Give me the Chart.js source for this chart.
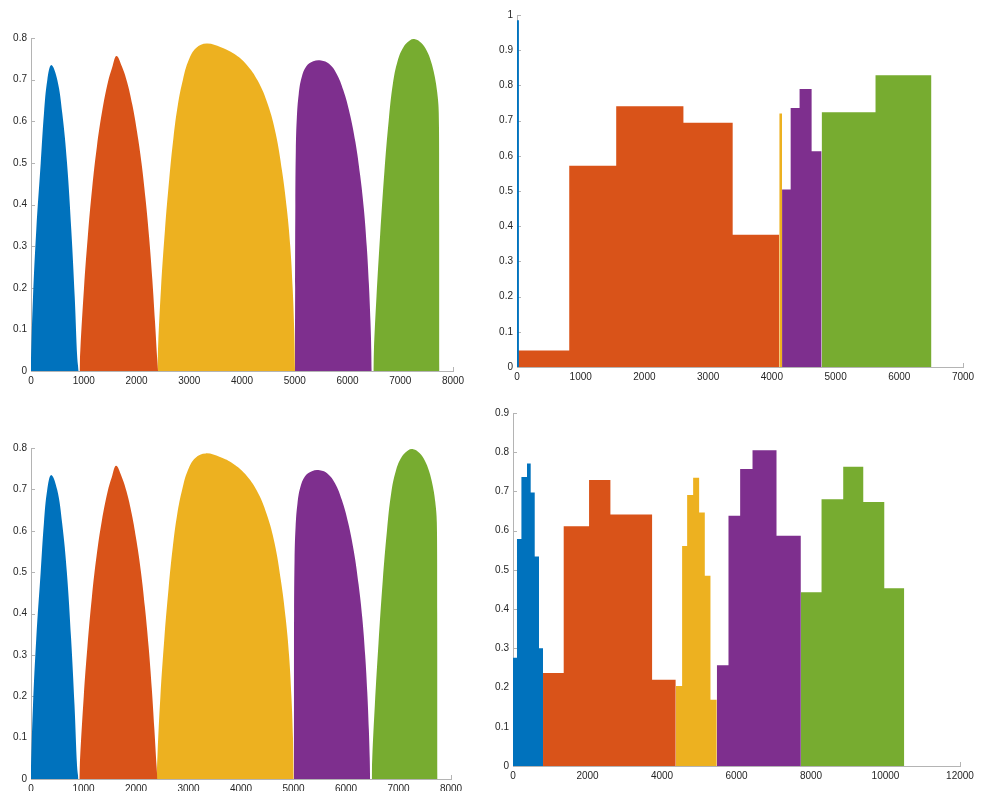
<!DOCTYPE html>
<html>
<head>
<meta charset="utf-8">
<title>Spectra</title>
<script src="https://cdn.jsdelivr.net/npm/chart.js@4.4.0/dist/chart.umd.min.js"></script>
<style>
  html, body { margin: 0; padding: 0; background: #fff; overflow: hidden; width: 983px; height: 791px; }
  .panel { position: absolute; }
</style>
</head>
<body>
<div class="panel" style="left:0px; top:28px; width:473px; height:363px;"><canvas id="chartTL"></canvas></div>
<div class="panel" style="left:486px; top:5px; width:497px; height:382px;"><canvas id="chartTR"></canvas></div>
<div class="panel" style="left:0px; top:438px; width:471px; height:361px;"><canvas id="chartBL"></canvas></div>
<div class="panel" style="left:482px; top:403px; width:498px; height:383px;"><canvas id="chartBR"></canvas></div>
<script>
// smooth lobes (left panels)
const curveBlueX   = [0, 38, 100, 184, 246, 309, 385, 499, 593, 683, 764, 829, 878, 904];
const curveBlueY   = [0.03, 0.178, 0.339, 0.5, 0.619, 0.699, 0.735, 0.699, 0.619, 0.5, 0.339, 0.178, 0.03, 0];
const curveOrangeX = [920, 935, 1005, 1075, 1160, 1250, 1350, 1460, 1540, 1620, 1720, 1820, 1920, 2010, 2095, 2170, 2240, 2300, 2350, 2392, 2408];
const curveOrangeY = [0, 0.05, 0.2, 0.32, 0.44, 0.54, 0.625, 0.695, 0.73, 0.757, 0.733, 0.695, 0.64, 0.575, 0.5, 0.415, 0.32, 0.22, 0.12, 0.03, 0];
const curveYellowX = [2395, 2410, 2465, 2540, 2620, 2700, 2785, 2880, 2990, 3130, 3330, 3600, 3850, 4080, 4300, 4490, 4640, 4760, 4850, 4915, 4960, 4990, 5005];
const curveYellowY = [0, 0.06, 0.2, 0.34, 0.46, 0.56, 0.64, 0.7, 0.747, 0.776, 0.787, 0.778, 0.762, 0.737, 0.697, 0.64, 0.57, 0.48, 0.39, 0.3, 0.2, 0.1, 0];
const curvePurpleX = [5005, 5007, 5011, 5020, 5040, 5075, 5130, 5220, 5350, 5500, 5650, 5790, 5920, 6040, 6150, 6240, 6310, 6365, 6405, 6435, 6452, 6460];
const curvePurpleY = [0, 0.2, 0.4, 0.53, 0.61, 0.665, 0.705, 0.732, 0.744, 0.746, 0.738, 0.715, 0.675, 0.62, 0.55, 0.47, 0.39, 0.3, 0.21, 0.12, 0.05, 0];
const curveGreenX  = [6490, 6500, 6550, 6620, 6700, 6780, 6860, 6950, 7060, 7180, 7280, 7400, 7500, 7580, 7650, 7700, 7730, 7740, 7744];
const curveGreenY  = [0, 0.05, 0.18, 0.33, 0.48, 0.6, 0.69, 0.745, 0.778, 0.794, 0.797, 0.788, 0.77, 0.745, 0.71, 0.67, 0.62, 0.4, 0];

// stepped bands, top right
const trBlueEdges   = [0, 30];
const trBlueVals    = [0.985];
const trOrangeEdges = [0, 820, 1557, 2612, 3385, 4116];
const trOrangeVals  = [0.047, 0.572, 0.741, 0.694, 0.376];
const trYellowEdges = [4116, 4160];
const trYellowVals  = [0.72];
const trPurpleEdges = [4160, 4295, 4435, 4624, 4781];
const trPurpleVals  = [0.504, 0.736, 0.79, 0.613];
const trGreenEdges  = [4781, 5627, 6505];
const trGreenVals   = [0.724, 0.829];

// stepped bands, bottom right
const brBlueEdges   = [0, 107, 226, 376, 475, 583, 698, 806];
const brBlueVals    = [0.276, 0.579, 0.737, 0.771, 0.697, 0.534, 0.30];
const brOrangeEdges = [806, 1361, 2042, 2615, 3734, 4370];
const brOrangeVals  = [0.237, 0.611, 0.729, 0.641, 0.22];
const brYellowEdges = [4370, 4540, 4675, 4836, 4997, 5149, 5301, 5471];
const brYellowVals  = [0.204, 0.561, 0.691, 0.735, 0.646, 0.485, 0.169];
const brPurpleEdges = [5471, 5785, 6098, 6430, 7074, 7728];
const brPurpleVals  = [0.257, 0.638, 0.757, 0.805, 0.587];
const brGreenEdges  = [7728, 8283, 8865, 9403, 9967, 10504];
const brGreenVals   = [0.443, 0.68, 0.763, 0.673, 0.453];

// tick labels
const ticks8000  = [0, 1000, 2000, 3000, 4000, 5000, 6000, 7000, 8000];
const ticks7000  = [0, 1000, 2000, 3000, 4000, 5000, 6000, 7000];
const ticks12000 = [0, 2000, 4000, 6000, 8000, 10000, 12000];
const ticksY08   = [0, 0.1, 0.2, 0.3, 0.4, 0.5, 0.6, 0.7, 0.8];
const ticksY09   = [0, 0.1, 0.2, 0.3, 0.4, 0.5, 0.6, 0.7, 0.8, 0.9];
const ticksY10   = [0, 0.1, 0.2, 0.3, 0.4, 0.5, 0.6, 0.7, 0.8, 0.9, 1];

const colors = ['#0072BD', '#D95319', '#EDB120', '#7E2F8E', '#77AC30'];
const axisColor = '#b4b4b4';
const textColor = '#262626';

function curvePoints(xs, ys) {
    return xs.map((x, i) => ({ x: x, y: ys[i] }));
}

function stepPoints(edges, vals) {
    const pts = vals.map((v, i) => ({ x: edges[i], y: v }));
    pts.push({ x: edges[edges.length - 1], y: vals[vals.length - 1] });
    return pts;
}

// MATLAB style ticks pointing into the plot
const inwardTicks = {
    id: 'inwardTicks',
    beforeDatasetsDraw(chart) {
        const { ctx, chartArea: a, scales } = chart;
        ctx.save();
        ctx.strokeStyle = axisColor;
        ctx.lineWidth = 1;
        ctx.beginPath();
        scales.x.ticks.forEach((t, i) => {
            const px = Math.round(scales.x.getPixelForTick(i)) + 0.5;
            ctx.moveTo(px, a.bottom);
            ctx.lineTo(px, a.bottom - 4);
        });
        scales.y.ticks.forEach((t, i) => {
            const py = Math.round(scales.y.getPixelForTick(i)) + 0.5;
            ctx.moveTo(a.left, py);
            ctx.lineTo(a.left + 4, py);
        });
        ctx.stroke();
        ctx.restore();
    }
};

function makeChart(id, datasets, xMax, xTicks, yMax, yTicks, stepped) {
    new Chart(document.getElementById(id), {
        type: 'line',
        data: {
            datasets: datasets.map((pts, i) => ({
                data: pts,
                backgroundColor: colors[i],
                borderColor: colors[i],
                borderWidth: 0,
                pointRadius: 0,
                fill: 'origin',
                stepped: stepped,
                tension: stepped ? 0 : 0.4
            }))
        },
        options: {
            responsive: true,
            maintainAspectRatio: false,
            animation: false,
            layout: { padding: { left: 0, right: 20, top: 10, bottom: 0 } },
            plugins: {
                legend: { display: false },
                tooltip: { enabled: false }
            },
            scales: {
                x: {
                    type: 'linear',
                    min: 0,
                    max: xMax,
                    grid: { display: false, drawTicks: false },
                    border: { display: true, color: axisColor, width: 1 },
                    afterBuildTicks: s => { s.ticks = xTicks.map(v => ({ value: v })); },
                    afterFit: s => { s.height = 20; },
                    ticks: {
                        color: textColor,
                        padding: 4,
                        maxRotation: 0,
                        autoSkip: false,
                        font: { family: 'Liberation Sans, Arial, sans-serif', size: 10 },
                        callback: v => String(v)
                    }
                },
                y: {
                    min: 0,
                    max: yMax,
                    grid: { display: false, drawTicks: false },
                    border: { display: true, color: axisColor, width: 1 },
                    afterBuildTicks: s => { s.ticks = yTicks.map(v => ({ value: v })); },
                    afterFit: s => { s.width = 31; },
                    ticks: {
                        color: textColor,
                        padding: 4,
                        autoSkip: false,
                        font: { family: 'Liberation Sans, Arial, sans-serif', size: 10 },
                        callback: v => String(Math.round(v * 10) / 10)
                    }
                }
            }
        },
        plugins: [inwardTicks]
    });
}

document.addEventListener('DOMContentLoaded', function() {
    const lobes = [
        curvePoints(curveBlueX, curveBlueY),
        curvePoints(curveOrangeX, curveOrangeY),
        curvePoints(curveYellowX, curveYellowY),
        curvePoints(curvePurpleX, curvePurpleY),
        curvePoints(curveGreenX, curveGreenY)
    ];
    makeChart('chartTL', lobes, 8000, ticks8000, 0.8, ticksY08, false);
    makeChart('chartBL', lobes.map(p => p.slice()), 8000, ticks8000, 0.8, ticksY08, false);

    makeChart('chartTR', [
        stepPoints(trBlueEdges, trBlueVals),
        stepPoints(trOrangeEdges, trOrangeVals),
        stepPoints(trYellowEdges, trYellowVals),
        stepPoints(trPurpleEdges, trPurpleVals),
        stepPoints(trGreenEdges, trGreenVals)
    ], 7000, ticks7000, 1, ticksY10, 'before');

    makeChart('chartBR', [
        stepPoints(brBlueEdges, brBlueVals),
        stepPoints(brOrangeEdges, brOrangeVals),
        stepPoints(brYellowEdges, brYellowVals),
        stepPoints(brPurpleEdges, brPurpleVals),
        stepPoints(brGreenEdges, brGreenVals)
    ], 12000, ticks12000, 0.9, ticksY09, 'before');
});
</script>
</body>
</html>
